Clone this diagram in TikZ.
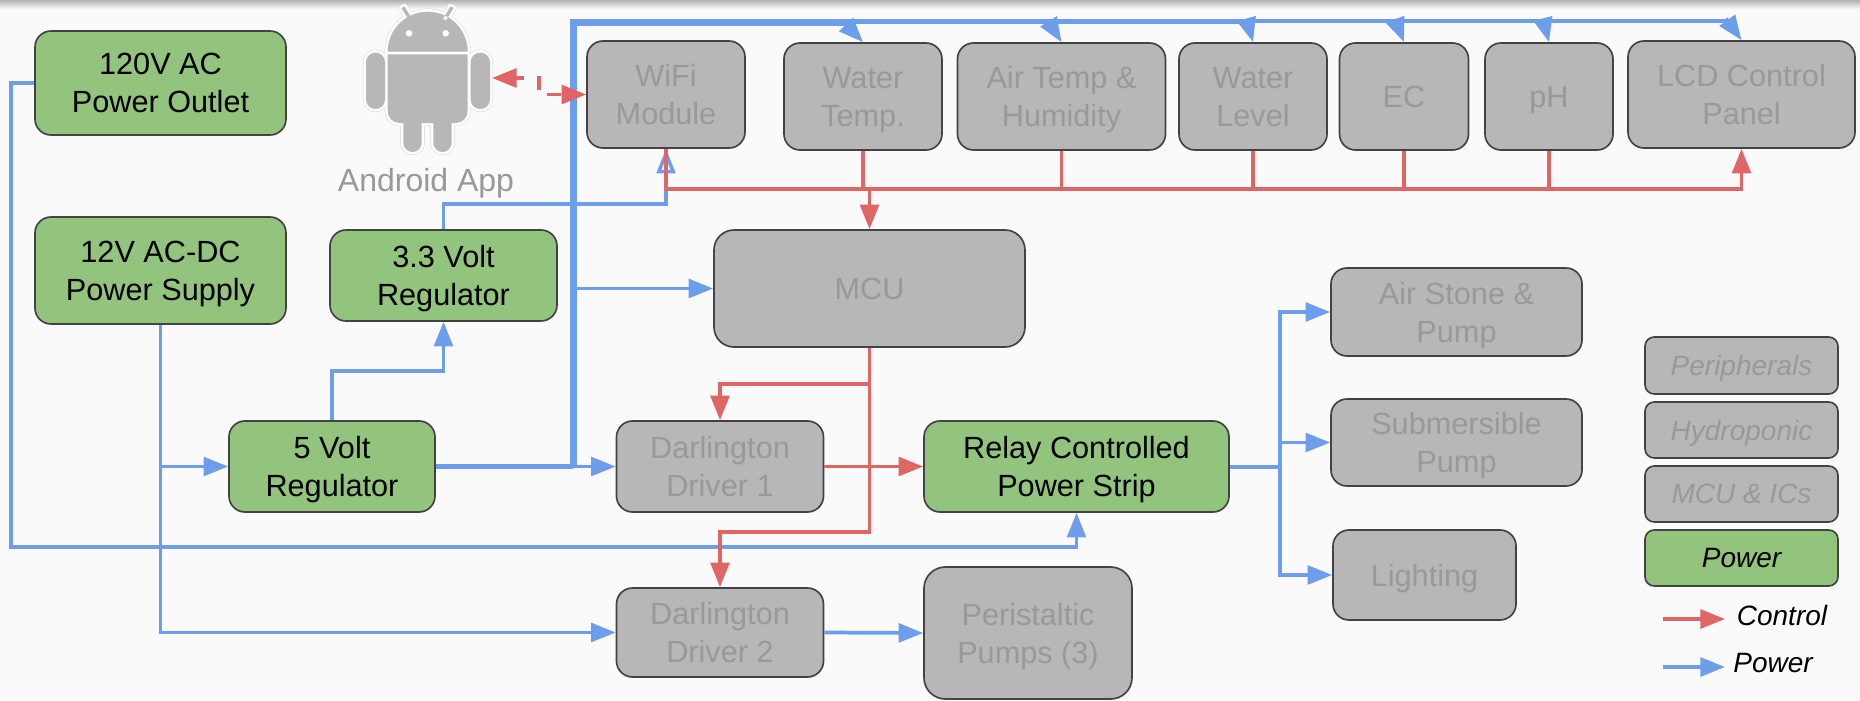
\documentclass[tikz,border=0pt]{standalone}
\usepackage{fontspec}
\setmainfont{Liberation Sans}
\usetikzlibrary{arrows.meta}
\definecolor{pagebg}{HTML}{FAFAFA}
\definecolor{ctrlred}{HTML}{E06666}
\definecolor{pwrblue}{HTML}{6D9EEB}
\definecolor{boxgreen}{HTML}{93C47D}
\definecolor{boxgray}{HTML}{B7B7B7}
\definecolor{boxline}{HTML}{434343}
\definecolor{dimtext}{HTML}{999999}
\tikzset{
  >={Triangle[length=18.4pt,width=14pt]},
  wh/.style 2 args={minimum width=#1*0.75pt,minimum height=#2*0.75pt},
  boxbase/.style={draw=boxline,line width=1.25pt,rounded corners=12pt,inner sep=0pt,align=center,text depth=0pt,font=\fontsize{23}{28.5}\selectfont},
  graybox/.style={boxbase,fill=boxgray,text=dimtext},
  greenbox/.style={boxbase,fill=boxgreen,text=black},
  keybox/.style={rounded corners=7pt,font=\fontsize{21}{25}\selectfont\itshape},
  pw/.style={color=pwrblue,line width=2.8pt},
  ctrl/.style={color=ctrlred,line width=2.8pt},
}
\def\droidpath{
  (387.7,51.7) arc (180:360:40) -- cycle
  (387.7,54.3) -- (467.7,54.3) [rounded corners=9pt] -- (467.7,123) -- (387.7,123) [sharp corners] -- cycle
  [rounded corners=7pt] (366,52.7) rectangle (385,109)
  (470.7,52.7) rectangle (490,109)
  (421.7,110) rectangle (403.3,152)
  (451.7,110) rectangle (433.3,152) [sharp corners]
  (401.5,8) -- (404.5,6.5) -- (412,19) -- (409,20.5) -- cycle
  (453.5,8) -- (450.5,6.5) -- (443,19) -- (446,20.5) -- cycle
}
\begin{document}
\begin{tikzpicture}[x=0.75pt,y=0.75pt,yscale=-1,xscale=1]
  \useasboundingbox (0,0) rectangle (1860,700);
  %Background
  \fill[pagebg] (0,0) rectangle (1860,700);
  \shade[top color=black!30,bottom color=pagebg] (0,0) rectangle (1860,9);

  %Shape: Android
  \path[draw=black!18,line width=4.6pt,line join=round] \droidpath;
  \path[draw=white,line width=4pt,line join=round] \droidpath;
  \path[fill=boxgray] \droidpath;
  \fill[white] (409,33.3) circle (3.3) (445.7,33.3) circle (3.3);
  \coordinate (droidport) at (492,78);
  \node (droidlabel) at (426,183) [text=dimtext,font=\fontsize{24}{28}\selectfont] {Android App};

  % Power nodes
  \node (ac) at (160.5,83) [greenbox,wh={251}{104}] {120V AC\\Power Outlet};
  \node (psu) at (160.5,270.5) [greenbox,wh={251}{107}] {12V AC-DC\\Power Supply};
  \node (reg33) at (443.5,275.5) [greenbox,wh={227}{91}] {3.3 Volt\\Regulator};
  \node (five) at (332,466.5) [greenbox,wh={206}{91}] {5 Volt\\Regulator};
  \node (relay) at (1076.5,466.5) [greenbox,wh={305}{91}] {Relay Controlled\\Power Strip};

  % Peripherals
  \node (wifi) at (666,94.5) [graybox,wh={158}{107}] {WiFi\\Module};
  \node (watertemp) at (863,96.5) [graybox,wh={158}{107}] {Water\\Temp.};
  \node (airtemp) at (1061.5,96.5) [graybox,wh={208}{107}] {Air Temp \&\\Humidity};
  \node (waterlevel) at (1253,96.5) [graybox,wh={148}{107}] {Water\\Level};
  \node (ec) at (1404,96.5) [graybox,wh={129}{107}] {EC};
  \node (ph) at (1549,96.5) [graybox,wh={128}{107}] {pH};
  \node (lcd) at (1741.5,94.5) [graybox,wh={227}{107}] {LCD Control\\Panel};

  \node (mcu) at (869.5,288.5) [graybox,wh={311}{117},rounded corners=15pt] {MCU};
  \node (darl1) at (720,466.5) [graybox,wh={207}{91}] {Darlington\\Driver 1};
  \node (darl2) at (720,632.5) [graybox,wh={207}{89}] {Darlington\\Driver 2};
  \node (peri) at (1028,633) [graybox,wh={208}{132},rounded corners=16pt] {Peristaltic\\Pumps (3)};
  \node (air) at (1456.5,312) [graybox,wh={251}{88}] {Air Stone \&\\Pump};
  \node (sub) at (1456.5,442.5) [graybox,wh={251}{87}] {Submersible\\Pump};
  \node (light) at (1424.5,575) [graybox,wh={183}{90}] {Lighting};

  % Legend
  \node (keyperi) at (1741.5,365.5) [graybox,keybox,wh={193}{57}] {Peripherals};
  \node (keyhydro) at (1741.5,430) [graybox,keybox,wh={193}{56}] {Hydroponic};
  \node (keymcu) at (1741.5,494) [graybox,keybox,wh={193}{56}] {MCU \& ICs};
  \node (keypower) at (1741.5,558) [greenbox,keybox,wh={193}{56}] {Power};
  \node (keyctrl) at (1782,615) [font=\fontsize{21}{25}\selectfont\itshape] {Control};
  \node (keypw) at (1773,663) [font=\fontsize{21}{25}\selectfont\itshape] {Power};
  \coordinate (ctrltail) at (1663,619);
  \coordinate (ctrlhead) at (1725,619);
  \coordinate (pwtail) at (1663,667);
  \coordinate (pwhead) at (1725,667);
  \draw[ctrl,->] (ctrltail) -- (ctrlhead);
  \draw[pw,->] (pwtail) -- (pwhead);

  % Power lines
  \coordinate (acrail) at (10.7,547);
  \coordinate (trunkbase) at (573,466.5);
  \coordinate (trunktop) at (573,22.5);
  \coordinate (vmid) at (443.5,371);
  \coordinate (wfeed) at (666,204);
  \coordinate (split) at (1280,466.5);
  \draw[pw,->] (ac.west) -| (acrail) -| (relay.south);
  \draw[pw,->] (psu.south) |- (darl2.west);
  \draw[pw,->] (psu.south |- five.west) -- (five.west);
  \draw[pw,->] (five.north) |- (vmid) -- (reg33.south);
  \draw[pw,-{Triangle[open,fill=pagebg,length=18.4pt,width=14pt,line width=2.6pt]}] (reg33.north) |- (wfeed) -- (wifi.south);
  \draw[pw,->] (five.east) -- (darl1.west);
  \draw[pw,line width=3.4pt] (five.east) -- (trunkbase);
  \draw[pw,->] (trunkbase |- mcu.west) -- (mcu.west);
  \draw[pw,->] (darl2.east) -- (peri.west);
  \draw[pw,line width=3pt] (relay.east) -- (split);
  \draw[pw,->] (split) |- (air.west);
  \draw[pw,->] (split) |- (sub.west);
  \draw[pw,->] (split) |- (light.west);

  %Trunk along the top
  \draw[pw,line width=5.25pt,line join=miter] (trunkbase) -- (trunktop) -- (846,22.5);
  \draw[pw,line width=3.8pt] (846,21.5) -- (1250,21.5);
  \draw[pw,line width=3pt] (1250,21) -- (1727,21);
  \coordinate (wtfeed) at (845,23.5);
  \coordinate (airfeed) at (1048,20.5);
  \coordinate (wlfeed) at (1246.5,19);
  \coordinate (ecfeed) at (1395,19);
  \coordinate (phfeed) at (1543,19);
  \coordinate (lcdfeed) at (1726,18.5);
  \draw[pw,->] (wtfeed) -- (watertemp.north);
  \draw[pw,->] (airfeed) -- (airtemp.north);
  \draw[pw,->] (wlfeed) -- (waterlevel.north);
  \draw[pw,->] (ecfeed) -- (ec.north);
  \draw[pw,->] (phfeed) -- (ph.north);
  \draw[pw,->] (lcdfeed) -- (lcd.north);

  % Control lines
  \coordinate (busleft) at (666,189);
  \coordinate (dogleg) at (539,94.5);
  \draw[ctrl] (wifi.south) |- (watertemp.south |- busleft);
  \draw[ctrl,line width=3.2pt] (watertemp.south |- busleft) -- (ph.south |- busleft);
  \draw[ctrl] (watertemp.south) -- (watertemp.south |- busleft);
  \draw[ctrl] (airtemp.south) -- (airtemp.south |- busleft);
  \draw[ctrl] (waterlevel.south) -- (waterlevel.south |- busleft);
  \draw[ctrl] (ec.south) -- (ec.south |- busleft);
  \draw[ctrl] (ph.south) -- (ph.south |- busleft);
  \draw[ctrl,->] (ph.south |- busleft) -| (lcd.south);
  \draw[ctrl,->] (mcu.north |- busleft) -- (mcu.north);
  \draw[ctrl,<->,dash pattern=on 10.5pt off 9.75pt,dash phase=4.5pt] (droidport) -| (dogleg) -- (wifi.west);
  \coordinate (stemfoot) at (869.5,532);
  \draw[ctrl,->] (mcu.south) -- (stemfoot) -| (darl2.north);
  \draw[ctrl,->] (mcu.south |- 0,384) -| (darl1.north);
  \draw[ctrl,->] (darl1.east) -- (relay.west);
\end{tikzpicture}
\end{document}
